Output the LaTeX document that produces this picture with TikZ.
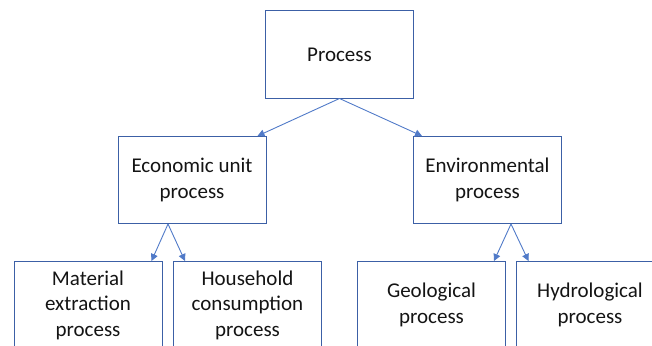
\documentclass[tikz,border=0pt]{standalone}
\usepackage{fontspec}
\setmainfont{Carlito}
\usetikzlibrary{arrows.meta,positioning}
\definecolor{boxline}{RGB}{60,96,166}
\definecolor{linkline}{RGB}{80,122,200}
\definecolor{inktext}{RGB}{20,20,20}
\begin{document}
\begin{tikzpicture}[x=1pt,y=-1pt,
  procbox/.style={draw=boxline, line width=1pt, minimum width=148pt, minimum height=87pt,
    inner sep=0pt, align=center, text=inktext, font=\fontsize{21}{25.5}\selectfont},
  link/.style={draw=linkline, line width=0.9pt, -{Triangle[length=7pt,width=7pt]}}]
  \useasboundingbox (0,0) rectangle (652,345);
  \begin{scope}
    \clip (0,0) rectangle (652,345);
    % top level
    \node[procbox] (proc) at (339.5,54.5) {Process};
    % second level
    \node[procbox] (eco) at (192,180) {Economic unit\\process};
    \node[procbox] (env) at (487.5,180) {Environmental\\process};
    % third level (runs past the lower edge)
    \node[procbox] (mat) at (88,305) {Material\\extraction\\process};
    \node[procbox] (hh) at (247.5,305) {Household\\consumption\\process};
    \node[procbox] (geo) at (431.5,305) {Geological\\process};
    \node[procbox] (hyd) at (590,305) {Hydrological\\process};
    % branch points
    \coordinate (ecofork) at ([xshift=-24pt]eco.south);
    \coordinate (envfork) at ([xshift=23.5pt]env.south);
    % connectors
    \draw[link] (proc.south) -- ([xshift=-9pt]eco.north east);
    \draw[link] (proc.south) -- ([xshift=9pt]env.north west);
    \draw[link] (ecofork) -- ([xshift=-11pt]mat.north east);
    \draw[link] (ecofork) -- ([xshift=12pt]hh.north west);
    \draw[link] (envfork) -- ([xshift=-12pt]geo.north east);
    \draw[link] (envfork) -- ([xshift=13pt]hyd.north west);
  \end{scope}
\end{tikzpicture}
\end{document}
